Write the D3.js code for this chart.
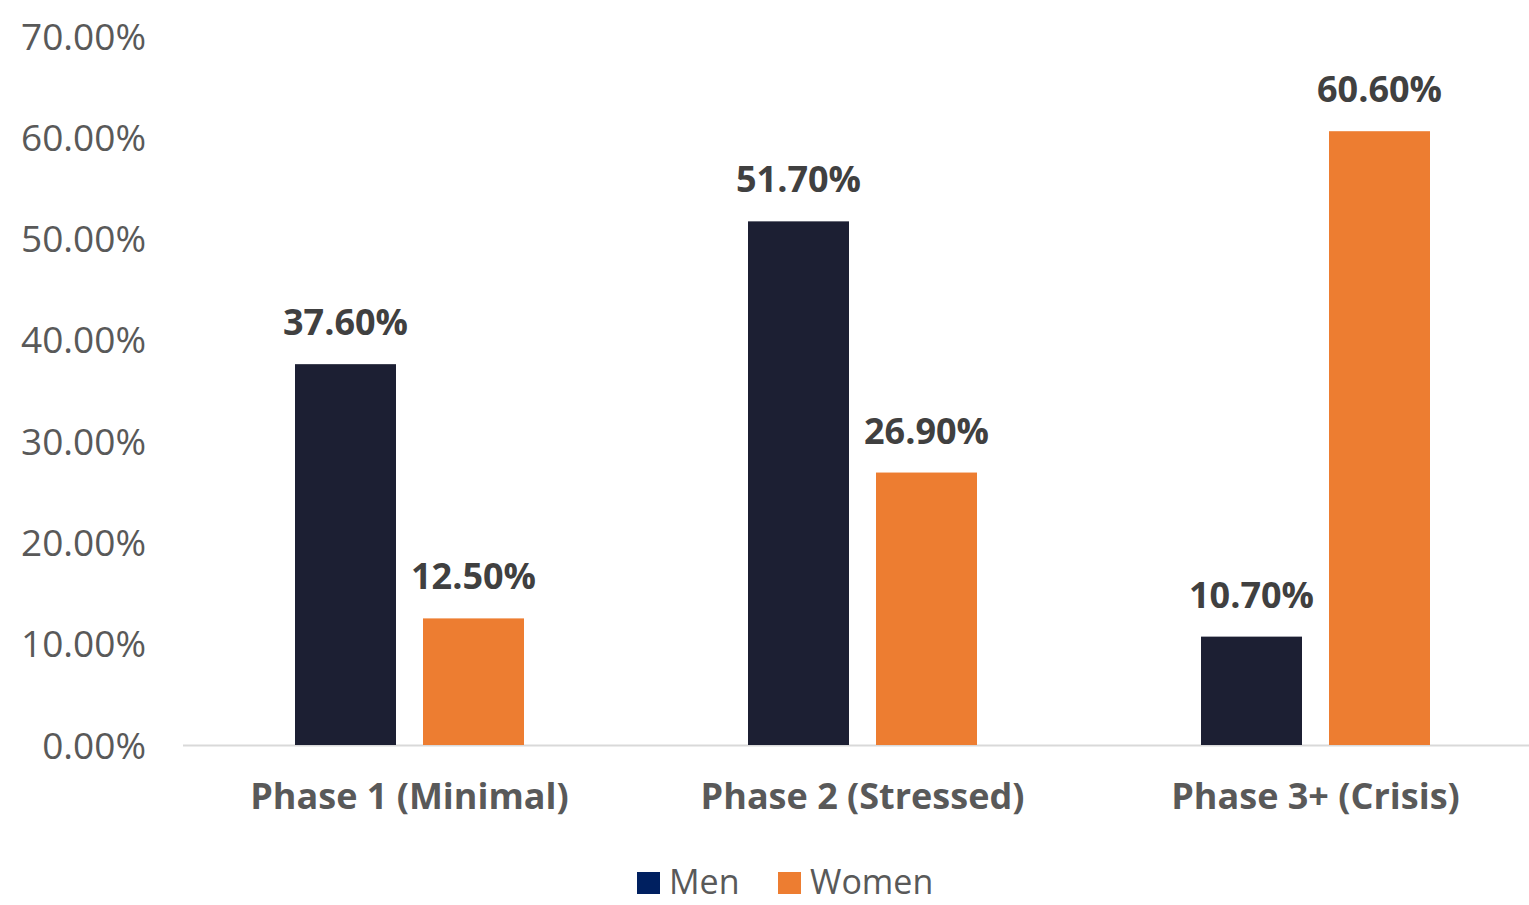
<!DOCTYPE html>
<html><head><meta charset="utf-8">
<script src="https://cdn.jsdelivr.net/npm/d3@7"></script>
<style>body{margin:0;background:#fff;} svg{display:block;}</style>
</head><body>
<svg id="c" width="1529" height="905"></svg>
<script>
const categories = ["Phase 1 (Minimal)", "Phase 2 (Stressed)", "Phase 3+ (Crisis)"];
const seriesNames = ["Men", "Women"];
const menValues = [37.6, 51.7, 10.7];
const womenValues = [12.5, 26.9, 60.6];
const yTicks = [0, 10, 20, 30, 40, 50, 60, 70];
const barColors = ["#1c1f33", "#ed7d31"];
const legendColors = ["#002060", "#ed7d31"];

const font = "'Open Sans', 'Noto Sans', sans-serif";
const svg = d3.select("#c");
const x = d3.scaleBand().domain(categories).range([183, 1542]).paddingInner(0).paddingOuter(0);
const y = d3.scaleLinear().domain([0, 70]).range([745, 36]);
const inner = d3.scaleBand().domain(seriesNames).range([0, x.bandwidth()]).paddingInner(0.211).paddingOuter(0.875);

// y axis labels
const yAxis = d3.axisLeft(y).tickValues(yTicks).tickSize(0).tickPadding(0).tickFormat(d => d3.format(".2f")(d) + "%");
const ya = svg.append("g").attr("transform", "translate(146,0)").call(yAxis);
ya.select(".domain").remove();
ya.selectAll("text").attr("dy", null).attr("y", 13)
  .attr("font-family", font).attr("font-size", 37).attr("fill", "#595959");

// baseline
svg.append("line").attr("x1", 183).attr("x2", 1529).attr("y1", y(0) + 0.5).attr("y2", y(0) + 0.5)
  .attr("stroke", "#d9d9d9").attr("stroke-width", 2);

const data = categories.map((c, i) => ({cat: c, vals: [menValues[i], womenValues[i]]}));
const groups = svg.append("g").selectAll("g").data(data).join("g")
  .attr("transform", d => `translate(${x(d.cat)},0)`);
groups.selectAll("rect").data(d => d.vals.map((v, j) => ({v, s: seriesNames[j], j}))).join("rect")
  .attr("x", d => inner(d.s)).attr("width", inner.bandwidth())
  .attr("y", d => y(d.v)).attr("height", d => y(0) - y(d.v))
  .attr("fill", d => barColors[d.j]);
groups.selectAll("text.lbl").data(d => d.vals.map((v, j) => ({v, s: seriesNames[j], j}))).join("text")
  .attr("class", "lbl")
  .attr("x", d => inner(d.s) + inner.bandwidth() / 2).attr("y", d => y(d.v) - 29)
  .attr("text-anchor", "middle")
  .attr("font-family", font).attr("font-weight", 700).attr("font-size", 36).attr("fill", "#404040")
  .text(d => d3.format(".2f")(d.v) + "%");

// x axis labels
const xa = svg.append("g").attr("transform", `translate(0,${y(0)})`)
  .call(d3.axisBottom(x).tickSize(0).tickPadding(0));
xa.select(".domain").remove();
xa.selectAll("text").attr("y", 50).attr("dy", "0").attr("dominant-baseline", "central")
  .attr("font-family", font).attr("font-weight", 700).attr("font-size", 36).attr("fill", "#595959");

// legend
const leg = svg.append("g").attr("transform", "translate(637,886)");
const legX = [0, 141];
seriesNames.forEach((s, i) => {
  leg.append("rect").attr("x", legX[i]).attr("y", -14).attr("width", 23).attr("height", 22).attr("fill", legendColors[i]);
  leg.append("text").attr("x", legX[i] + 32).attr("y", 8)
    .attr("font-family", font).attr("font-size", 34).attr("fill", "#595959").text(s);
});
</script>
</body></html>
